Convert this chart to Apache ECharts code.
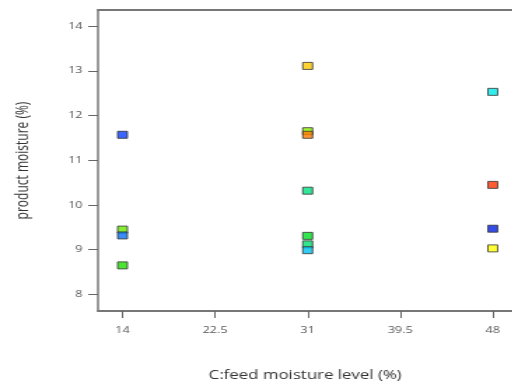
<!DOCTYPE html>
<html>
<head>
<meta charset="utf-8">
<script src="https://cdn.jsdelivr.net/npm/echarts@6/dist/echarts.min.js"></script>
<style>
  html, body { margin: 0; padding: 0; background: #fff; overflow: hidden; }
  /* The chart is drawn narrow and widened horizontally to fill the frame */
  #chart { width: 366.4px; height: 381px; transform: scaleX(1.4); transform-origin: 0 0; }
</style>
</head>
<body>
<div id="chart"></div>
<script>
// Feed moisture level (%) for each run
const feedMoisture = [14, 14, 14, 14, 31, 31, 31, 31, 31, 31, 31, 48, 48, 48, 48];
// Measured product moisture (%) for each run
const productMoisture = [11.57, 9.45, 9.32, 8.65, 13.11, 11.65, 11.57, 10.32, 9.31, 9.12, 8.99, 12.53, 10.45, 9.47, 9.03];
// Fill colour for each run's marker
const pointColors = ['#0a40ff', '#66e800', '#0a70f0', '#22dd00', '#ffc800', '#8cee00', '#ff7a00',
                     '#00e080', '#00e020', '#00e070', '#00c0f0', '#00e8e8', '#ff3300', '#0020e0', '#ffff00'];
const xTicks = [14, 22.5, 31, 39.5, 48];
const yTicks = [8, 9, 10, 11, 12, 13, 14];

const points = feedMoisture.map((x, i) => ({
  value: [x, productMoisture[i]],
  itemStyle: { color: pointColors[i] }
}));

const chart = echarts.init(document.getElementById('chart'));
chart.setOption({
  animation: false,
  grid: { left: 70, top: 10, right: 0, bottom: 70, outerBoundsMode: 'none', containLabel: false },
  xAxis: [{
    type: 'value',
    min: 11.75, max: 49.8,
    name: 'C:feed moisture level (%)',
    nameLocation: 'middle',
    nameGap: 59,
    nameTextStyle: { fontFamily: 'Open Sans', fontSize: 12, color: '#333' },
    axisLine: { show: true, onZero: false, lineStyle: { color: '#777', width: 2 } },
    axisTick: { show: true, length: 7, customValues: xTicks, lineStyle: { color: '#666' } },
    axisLabel: { customValues: xTicks, margin: 15, fontFamily: 'Open Sans', fontSize: 9, color: '#555' },
    splitLine: { show: false }
  }, {
    type: 'value', position: 'top',
    min: 11.75, max: 49.8,
    axisLine: { show: true, onZero: false, lineStyle: { color: '#777', width: 2 } },
    axisTick: { show: false }, axisLabel: { show: false }, splitLine: { show: false }
  }],
  yAxis: {
    type: 'value',
    min: 7.63, max: 14.36,
    name: 'product moisture (%)',
    nameLocation: 'middle',
    nameGap: 47,
    nameTextStyle: { fontFamily: 'Open Sans', fontSize: 12, color: '#333' },
    axisLine: { show: true, onZero: false, lineStyle: { color: '#777', width: 1.5 } },
    axisTick: { show: true, length: 7, customValues: yTicks, lineStyle: { color: '#666' } },
    axisLabel: { customValues: yTicks, margin: 11, fontFamily: 'Open Sans', fontSize: 9, color: '#555' },
    splitLine: { show: false }
  },
  series: [{
    type: 'scatter',
    symbol: 'rect',
    symbolSize: [7, 7],
    itemStyle: { borderColor: '#333', borderWidth: 1 },
    data: points
  }]
});
</script>
</body>
</html>
